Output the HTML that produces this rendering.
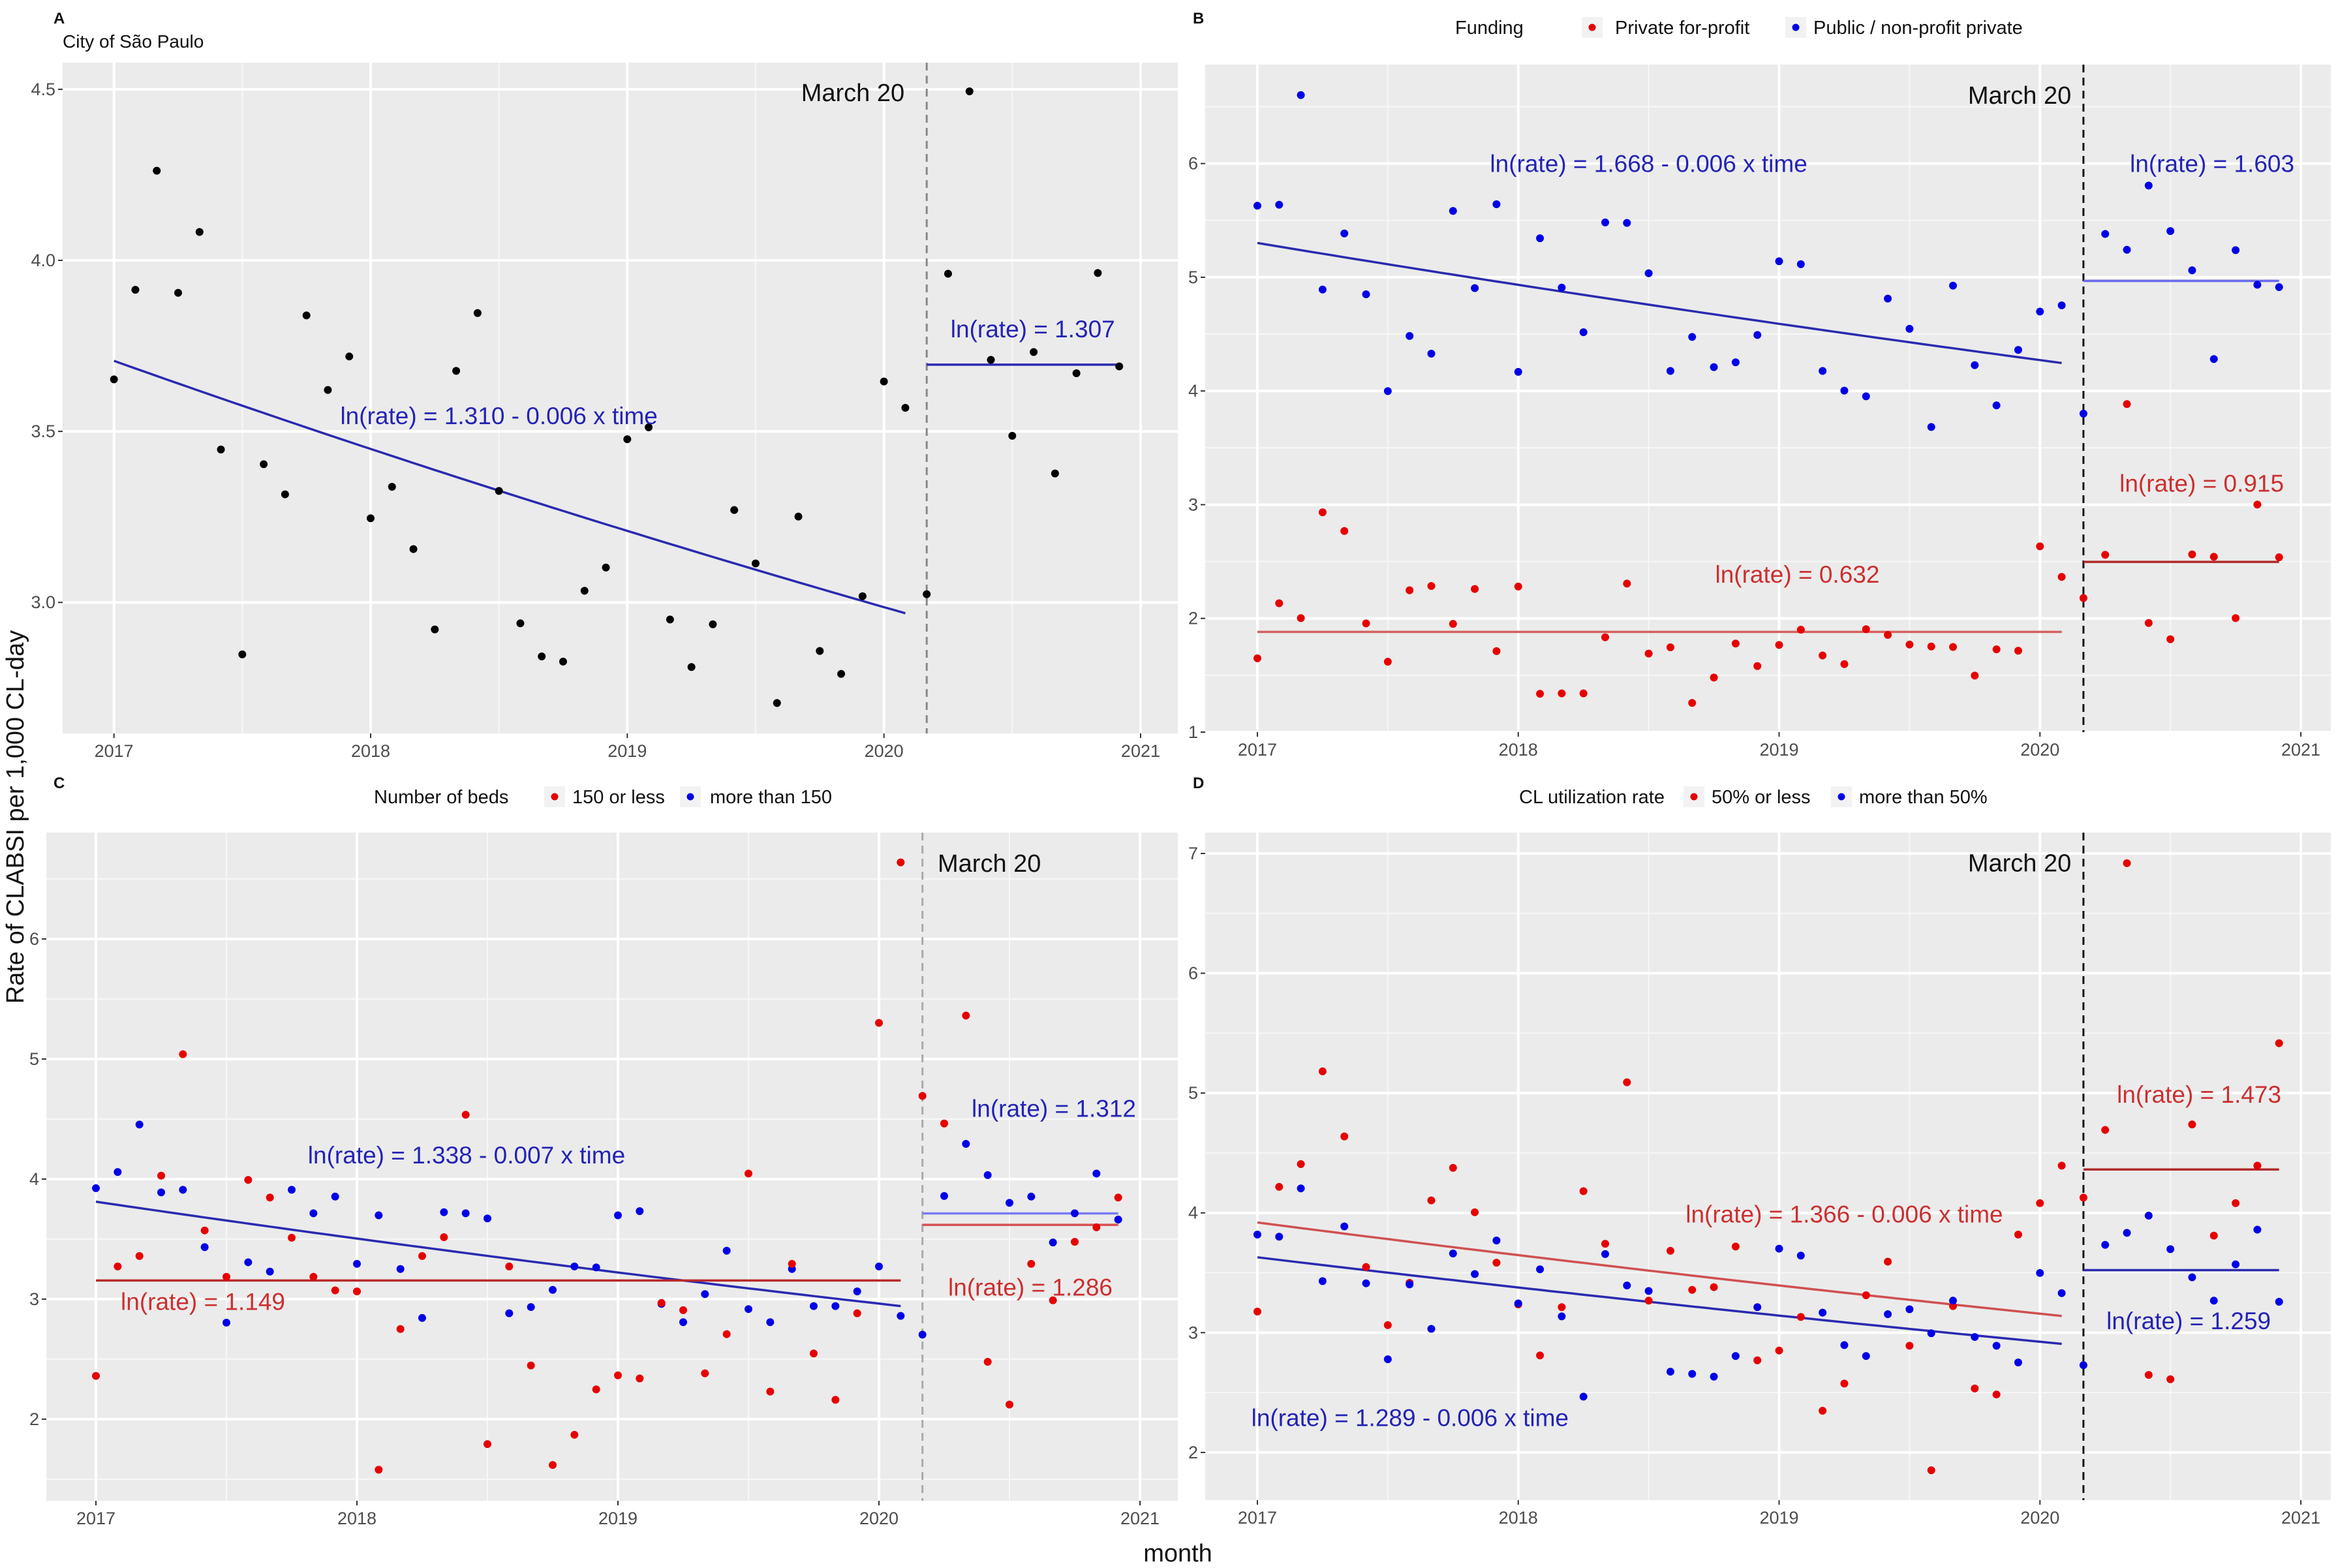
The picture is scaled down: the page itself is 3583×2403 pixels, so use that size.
<!DOCTYPE html>
<html><head><meta charset="utf-8">
<style>
html,body{margin:0;padding:0;background:#fff;}
svg{display:block;font-family:"Liberation Sans",Arial,sans-serif;}
</style></head>
<body>
<svg id="chart" xmlns="http://www.w3.org/2000/svg" width="3583" height="2403" viewBox="0 0 3583 2403"></svg>
<script>
// ---- data (monthly, Jan 2017 .. Dec 2020) ----
const monthsCount = 48;
const seriesA = [3.652,3.914,4.262,3.905,4.083,3.447,2.848,3.404,3.316,3.839,3.621,3.719,3.246,3.338,3.156,2.921,3.677,3.846,3.326,2.939,2.842,2.827,3.034,3.102,3.477,3.512,2.950,2.811,2.936,3.270,3.114,2.706,3.251,2.858,2.791,3.018,3.646,3.569,3.024,3.961,4.494,3.709,3.487,3.732,3.377,3.670,3.963,3.690];
const seriesBblue = [5.629,5.638,6.602,4.892,5.385,4.850,3.999,4.484,4.328,5.583,4.905,5.642,4.168,5.343,4.909,4.517,5.482,5.478,5.035,4.176,4.475,4.210,4.252,4.492,5.141,5.115,4.176,4.003,3.953,4.812,4.547,3.683,4.926,4.227,3.873,4.361,4.698,4.753,3.801,5.381,5.242,5.806,5.406,5.061,4.281,5.238,4.934,4.913];
const seriesBred = [1.649,2.133,2.003,2.933,2.769,1.956,1.619,2.247,2.285,1.952,2.259,1.712,2.280,1.337,1.341,1.341,1.834,2.306,1.691,1.746,1.257,1.480,1.779,1.581,1.767,1.901,1.674,1.598,1.905,1.855,1.770,1.753,1.749,1.497,1.728,1.716,2.634,2.365,2.179,2.559,3.885,1.960,1.817,2.563,2.542,2.003,3.001,2.538];
const seriesCred = [2.360,3.272,3.359,4.028,5.040,3.572,3.186,3.993,3.846,3.511,3.186,3.073,3.064,1.579,2.751,3.359,3.516,4.536,1.792,3.272,2.447,1.618,1.870,2.248,2.365,2.339,2.968,2.908,2.382,2.708,4.046,2.230,3.294,2.547,2.161,2.882,5.301,6.638,4.693,4.463,5.362,2.478,2.122,3.294,2.990,3.477,3.598,3.846];
const seriesCblue = [3.924,4.059,4.454,3.889,3.911,3.433,2.804,3.307,3.229,3.911,3.715,3.854,3.294,3.698,3.251,2.843,3.724,3.715,3.672,2.882,2.934,3.077,3.272,3.264,3.698,3.733,2.960,2.808,3.042,3.403,2.917,2.808,3.251,2.942,2.942,3.064,3.272,2.860,2.704,3.859,4.293,4.033,3.802,3.854,3.472,3.715,4.046,3.663];
const seriesDred = [3.176,4.217,4.407,5.181,4.638,3.548,3.063,3.416,4.104,4.376,4.005,3.584,3.235,2.810,3.213,4.181,3.742,5.090,3.267,3.683,3.357,3.380,3.719,2.769,2.851,3.131,2.348,2.575,3.312,3.593,2.891,1.851,3.222,2.534,2.484,3.819,4.081,4.394,4.127,4.692,6.919,2.647,2.611,4.738,3.810,4.081,4.394,5.416];
const seriesDblue = [3.819,3.801,4.204,3.430,3.887,3.412,2.778,3.403,3.032,3.661,3.489,3.769,3.244,3.529,3.136,2.466,3.656,3.394,3.348,2.674,2.656,2.633,2.805,3.213,3.701,3.643,3.167,2.896,2.805,3.154,3.195,2.995,3.267,2.964,2.891,2.751,3.498,3.330,2.729,3.733,3.833,3.977,3.697,3.462,3.267,3.570,3.860,3.258];
// model coefficients: [intercept, slope] pre, intercept post
const fitA = [1.310,-0.006], postA = 1.307;
const fitBblue = [1.668,-0.006], postBblue = 1.603;
const fitBred = [0.632,0], postBred = 0.915;
const fitCblue = [1.338,-0.007], postCblue = 1.312;
const fitCred = [1.149,0], postCred = 1.286;
const fitDred = [1.366,-0.006], postDred = 1.473;
const fitDblue = [1.289,-0.006], postDblue = 1.259;
const xTickLabels = ["2017","2018","2019","2020","2021"];
const yTicksA = [3.0,3.5,4.0,4.5];
const yTicksB = [1,2,3,4,5,6];
const yTicksC = [2,3,4,5,6];
const yTicksD = [2,3,4,5,6,7];
const interventionMonth = 2020 + 2/12;
const preEnd = 37;

const NS="http://www.w3.org/2000/svg";
const svg=document.getElementById('chart');
function mk(tag,attrs,parent){const e=document.createElementNS(NS,tag);for(const k in attrs)e.setAttribute(k,attrs[k]);(parent||svg).appendChild(e);return e;}

const BLUE_PT="#0000e6", RED_PT="#e60000";
const BLUE_LN="#2a2ab0", RED_LN="#c23a3a", BLUE_TX="#2323b5", RED_TX="#cc2f2f";

function panel(cfg){
  const g=mk('g',{});
  
  
  const xs=v=>cfg.L+(v-cfg.x0)/(cfg.x1-cfg.x0)*(cfg.R-cfg.L);
  const ys=v=>cfg.B-(v-cfg.y0)/(cfg.y1-cfg.y0)*(cfg.B-cfg.T);
  const bg=mk('rect',{x:cfg.L,y:cfg.T,width:cfg.R-cfg.L,height:cfg.B-cfg.T,fill:'#ebebeb'},g);
  
  
  // minor grid
  for(let y=Math.ceil(cfg.y0*2)/2;y<=cfg.y1;y+=0.5){
    if(Math.abs(y-Math.round(y/cfg.major)*cfg.major)<1e-6) continue;
    mk('line',{x1:cfg.L,x2:cfg.R,y1:ys(y),y2:ys(y),stroke:'#f7f7f7','stroke-width':2},g);
  }
  for(let x=2016.5;x<=2021.5;x+=1){ if(x>cfg.x0&&x<cfg.x1) mk('line',{x1:xs(x),x2:xs(x),y1:cfg.T,y2:cfg.B,stroke:'#f7f7f7','stroke-width':2},g);}
  // major grid + ticks
  cfg.yTicks.forEach(v=>{
    mk('line',{x1:cfg.L,x2:cfg.R,y1:ys(v),y2:ys(v),stroke:'#fff','stroke-width':4},g);
    mk('line',{x1:cfg.L-7,x2:cfg.L,y1:ys(v),y2:ys(v),stroke:'#333','stroke-width':2},g);
    const t=mk('text',{x:cfg.L-11,y:ys(v)+9,'text-anchor':'end','font-size':27,fill:'#4d4d4d'},g);
    t.textContent=cfg.yFmt(v);
    
    
  });
  xTickLabels.forEach(lbl=>{
    const v=+lbl;
    mk('line',{x1:xs(v),x2:xs(v),y1:cfg.T,y2:cfg.B,stroke:'#fff','stroke-width':4},g);
    mk('line',{x1:xs(v),x2:xs(v),y1:cfg.B,y2:cfg.B+7,stroke:'#333','stroke-width':2},g);
    const t=mk('text',{x:xs(v),y:cfg.B+36,'text-anchor':'middle','font-size':27,fill:'#4d4d4d'},g);
    t.textContent=lbl;
    
    
  });
  // dashed intervention line
  const dl=mk('line',{x1:xs(interventionMonth),x2:xs(interventionMonth),y1:cfg.T,y2:cfg.B,stroke:cfg.dashColor,'stroke-width':3,'stroke-dasharray':'12 8'},g);
  
  
  const mt=mk('text',{x:xs(cfg.march[0]),y:ys(cfg.march[1])+13,'text-anchor':cfg.march[2],'font-size':38,fill:'#111'},g);
  mt.textContent='March 20';
  
  
  // series
  cfg.series.forEach(s=>{
    // fitted lines
    const pts=[];
    for(let t=0;t<=preEnd;t+=0.5){pts.push(xs(2017+t/12).toFixed(1)+','+ys(Math.exp(s.fit[0]+s.fit[1]*t)).toFixed(1));}
    const pl=mk('polyline',{points:pts.join(' '),fill:'none',stroke:s.line,'stroke-width':3.5},g);
    
    
    const pv=Math.exp(s.post);
    const ln=mk('line',{x1:xs(interventionMonth),x2:xs(2017+47/12),y1:ys(pv),y2:ys(pv),stroke:s.postLine,'stroke-width':3.5},g);
    
    
  });
  cfg.series.forEach(s=>{
    s.data.forEach((v,i)=>{
      const c=mk('circle',{cx:xs(2017+i/12),cy:ys(v),r:6,fill:s.pt},g);
      
      
    });
  });
  cfg.labels.forEach(l=>{
    const t=mk('text',{x:xs(l.x),y:ys(l.y)+13,'text-anchor':'middle','font-size':37,fill:l.c},g);
    t.textContent=l.t;
    
    
  });
}

const f1=v=>v.toFixed(1), f0=v=>String(v);
panel({name:'panel-a',L:96,R:1805,T:96,B:1124,x0:2016.80,x1:2021.145,y0:2.617,y1:4.578,major:0.5,yTicks:yTicksA,yFmt:f1,dashColor:'#888',
  march:[2020.08,4.49,'end'],
  series:[{key:'city',data:seriesA,fit:fitA,post:postA,pt:'#000',line:BLUE_LN,postLine:BLUE_LN}],
  labels:[{x:2018.5,y:3.546,t:'ln(rate) = 1.310 - 0.006 x time',c:BLUE_TX},{x:2020.58,y:3.80,t:'ln(rate) = 1.307',c:BLUE_TX}]});
panel({name:'panel-b',L:1847,R:3572,T:99,B:1122,x0:2016.80,x1:2021.115,y0:1,y1:6.87,major:1,yTicks:yTicksB,yFmt:f0,dashColor:'#111',
  march:[2020.12,6.6,'end'],
  series:[{key:'public',data:seriesBblue,fit:fitBblue,post:postBblue,pt:BLUE_PT,line:BLUE_LN,postLine:'#6a6af0'},
          {key:'private',data:seriesBred,fit:fitBred,post:postBred,pt:RED_PT,line:'#d66060',postLine:'#b02a2a'}],
  labels:[{x:2018.5,y:6.0,t:'ln(rate) = 1.668 - 0.006 x time',c:BLUE_TX},{x:2020.66,y:6.0,t:'ln(rate) = 1.603',c:BLUE_TX},
          {x:2019.07,y:2.39,t:'ln(rate) = 0.632',c:RED_TX},{x:2020.62,y:3.19,t:'ln(rate) = 0.915',c:RED_TX}]});
panel({name:'panel-c',L:71,R:1805,T:1276,B:2300,x0:2016.81,x1:2021.145,y0:1.32,y1:6.886,major:1,yTicks:yTicksC,yFmt:f0,dashColor:'#aaa',
  march:[2020.225,6.63,'start'],
  series:[{key:'more-than-150',data:seriesCblue,fit:fitCblue,post:postCblue,pt:BLUE_PT,line:BLUE_LN,postLine:'#7a7af5'},
          {key:'150-or-less',data:seriesCred,fit:fitCred,post:postCred,pt:RED_PT,line:'#b82a2a',postLine:'#d65050'}],
  labels:[{x:2018.42,y:4.20,t:'ln(rate) = 1.338 - 0.007 x time',c:BLUE_TX},{x:2017.41,y:2.98,t:'ln(rate) = 1.149',c:RED_TX},
          {x:2020.67,y:4.59,t:'ln(rate) = 1.312',c:BLUE_TX},{x:2020.58,y:3.10,t:'ln(rate) = 1.286',c:RED_TX}]});
panel({name:'panel-d',L:1847,R:3572,T:1276,B:2299,x0:2016.80,x1:2021.115,y0:1.602,y1:7.174,major:1,yTicks:yTicksD,yFmt:f0,dashColor:'#111',
  march:[2020.12,6.92,'end'],
  series:[{key:'cl-50-or-less',data:seriesDred,fit:fitDred,post:postDred,pt:RED_PT,line:'#d05050',postLine:'#b02a2a'},
          {key:'cl-more-than-50',data:seriesDblue,fit:fitDblue,post:postDblue,pt:BLUE_PT,line:BLUE_LN,postLine:BLUE_LN}],
  labels:[{x:2019.25,y:3.99,t:'ln(rate) = 1.366 - 0.006 x time',c:RED_TX},{x:2017.585,y:2.29,t:'ln(rate) = 1.289 - 0.006 x time',c:BLUE_TX},
          {x:2020.61,y:4.99,t:'ln(rate) = 1.473',c:RED_TX},{x:2020.57,y:3.10,t:'ln(rate) = 1.259',c:BLUE_TX}]});

// panel letters, titles, legends
function txt(x,y,s,size,name,extra){
  const t=mk('text',Object.assign({x:x,y:y,'font-size':size,fill:'#111'},extra||{}));
  t.textContent=s;
  
  
  return t;
}
txt(82,36,'A',24,'panel-letter-a',{'font-weight':'bold'});
txt(1828,36,'B',24,'panel-letter-b',{'font-weight':'bold'});
txt(82,1208,'C',24,'panel-letter-c',{'font-weight':'bold'});
txt(1828,1208,'D',24,'panel-letter-d',{'font-weight':'bold'});
txt(96,73,'City of São Paulo',28,'panel-a-title');

function legend(y,title,tx,items,name){
  const g=mk('g',{});
  
  
  const t=mk('text',{x:tx,y:y+10,'font-size':29,fill:'#111'},g);t.textContent=title;
  items.forEach(it=>{
    mk('rect',{x:it.k-16,y:y-16,width:32,height:32,fill:'#f2f2f2'},g);
    const c=mk('circle',{cx:it.k,cy:y,r:5.5,fill:it.c},g);
    
    
    const l=mk('text',{x:it.x,y:y+10,'font-size':29,fill:'#111'},g);l.textContent=it.t;
    
    
  });
}
legend(42,'Funding',2230,[{k:2440,x:2475,c:RED_PT,t:'Private for-profit'},{k:2752,x:2779,c:BLUE_PT,t:'Public / non-profit private'}],'legend-funding');
legend(1221,'Number of beds',573,[{k:850,x:877,c:RED_PT,t:'150 or less'},{k:1058,x:1088,c:BLUE_PT,t:'more than 150'}],'legend-beds');
legend(1221,'CL utilization rate',2328,[{k:2596,x:2623,c:RED_PT,t:'50% or less'},{k:2822,x:2849,c:BLUE_PT,t:'more than 50%'}],'legend-cl-utilization');

txt(36,1252,'Rate of CLABSI per 1,000 CL-day',38,'y-axis-title',{'text-anchor':'middle',transform:'rotate(-90 36 1252)'});
txt(1805,2393,'month',38,'x-axis-title',{'text-anchor':'middle'});
</script>
</body></html>
